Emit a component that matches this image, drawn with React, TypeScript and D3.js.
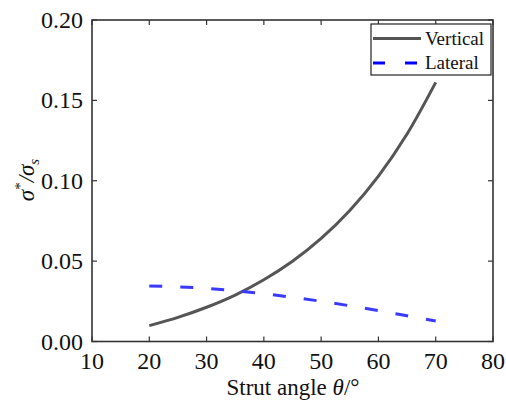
import React from "react";
import * as d3 from "d3";

const angles = [20, 25, 30, 35, 40, 45, 50, 55, 60, 65, 70];
const vertical = [0.0099, 0.015, 0.0213, 0.0289, 0.0384, 0.0499, 0.0641, 0.0815, 0.1029, 0.1291, 0.1612];
const lateral = [0.0345, 0.034, 0.033, 0.0315, 0.0297, 0.0275, 0.025, 0.0222, 0.0192, 0.016, 0.0128];
const xTicks = [10, 20, 30, 40, 50, 60, 70, 80];
const yTicks = [0, 0.05, 0.1, 0.15, 0.2];

export default function App() {
  const W = 506, H = 402;
  const L = 92, R = 493, T = 20, B = 341.5;
  const x = d3.scaleLinear().domain([10, 80]).range([L, R]);
  const y = d3.scaleLinear().domain([0, 0.2]).range([B, T]);
  const line = d3.line<number>().x((_, i) => x(angles[i])).y((d) => y(d)).curve(d3.curveCatmullRom);
  const fs = { fontFamily: "Liberation Serif, Times New Roman, DejaVu Serif, serif" };
  const frame = "#333";
  return (
    <svg width={W} height={H} style={{ position: "absolute", left: 0, top: 0 }}>
      <rect width={W} height={H} fill="#fff" />
      <path d={line(vertical) || ""} fill="none" stroke="#555" strokeWidth={3} />
      <path d={line(lateral) || ""} fill="none" stroke="#3a3aff" strokeWidth={3} strokeDasharray="13 18" />
      {xTicks.map((t) => (
        <g key={"x" + t}>
          <line x1={x(t)} x2={x(t)} y1={B} y2={B - 5} stroke={frame} strokeWidth={1.2} />
          <line x1={x(t)} x2={x(t)} y1={T} y2={T + 5} stroke={frame} strokeWidth={1.2} />
          <text x={x(t)} y={369} textAnchor="middle" fontSize={24} fill="#111" style={fs}>{t}</text>
        </g>
      ))}
      {yTicks.map((t) => (
        <g key={"y" + t}>
          <line x1={L} x2={L + 5} y1={y(t)} y2={y(t)} stroke={frame} strokeWidth={1.2} />
          <line x1={R} x2={R - 5} y1={y(t)} y2={y(t)} stroke={frame} strokeWidth={1.2} />
          <text x={L - 9} y={y(t) + 8} textAnchor="end" fontSize={24} fill="#111" style={fs}>{t.toFixed(2)}</text>
        </g>
      ))}
      <rect x={L} y={T} width={R - L} height={B - T} fill="none" stroke={frame} strokeWidth={1.6} />
      <g>
        <rect x={371} y={24} width={120} height={51} fill="#fff" stroke="#222" strokeWidth={1.2} />
        <line x1={373} x2={421} y1={38.5} y2={38.5} stroke="#555" strokeWidth={3} />
        <text x={425} y={45} fontSize={19} fill="#111" style={fs}>Vertical</text>
        <line x1={373} x2={421} y1={63} y2={63} stroke="#0000ff" strokeWidth={3} strokeDasharray="12 20" />
        <text x={425} y={69} fontSize={19} fill="#111" style={fs}>Lateral</text>
      </g>
      <text x={293} y={395} textAnchor="middle" fontSize={23} fill="#111" style={fs}>
        Strut angle <tspan fontStyle="italic">θ</tspan>/°
      </text>
      <text transform={`translate(34, 180) rotate(-90)`} textAnchor="middle" fontSize={23} fill="#111" fontStyle="italic" style={fs}>
        σ<tspan dy={-9} fontSize={15} fontStyle="normal">*</tspan><tspan dy={9}>/σ</tspan><tspan dy={5} fontSize={15}>s</tspan>
      </text>
    </svg>
  );
}
